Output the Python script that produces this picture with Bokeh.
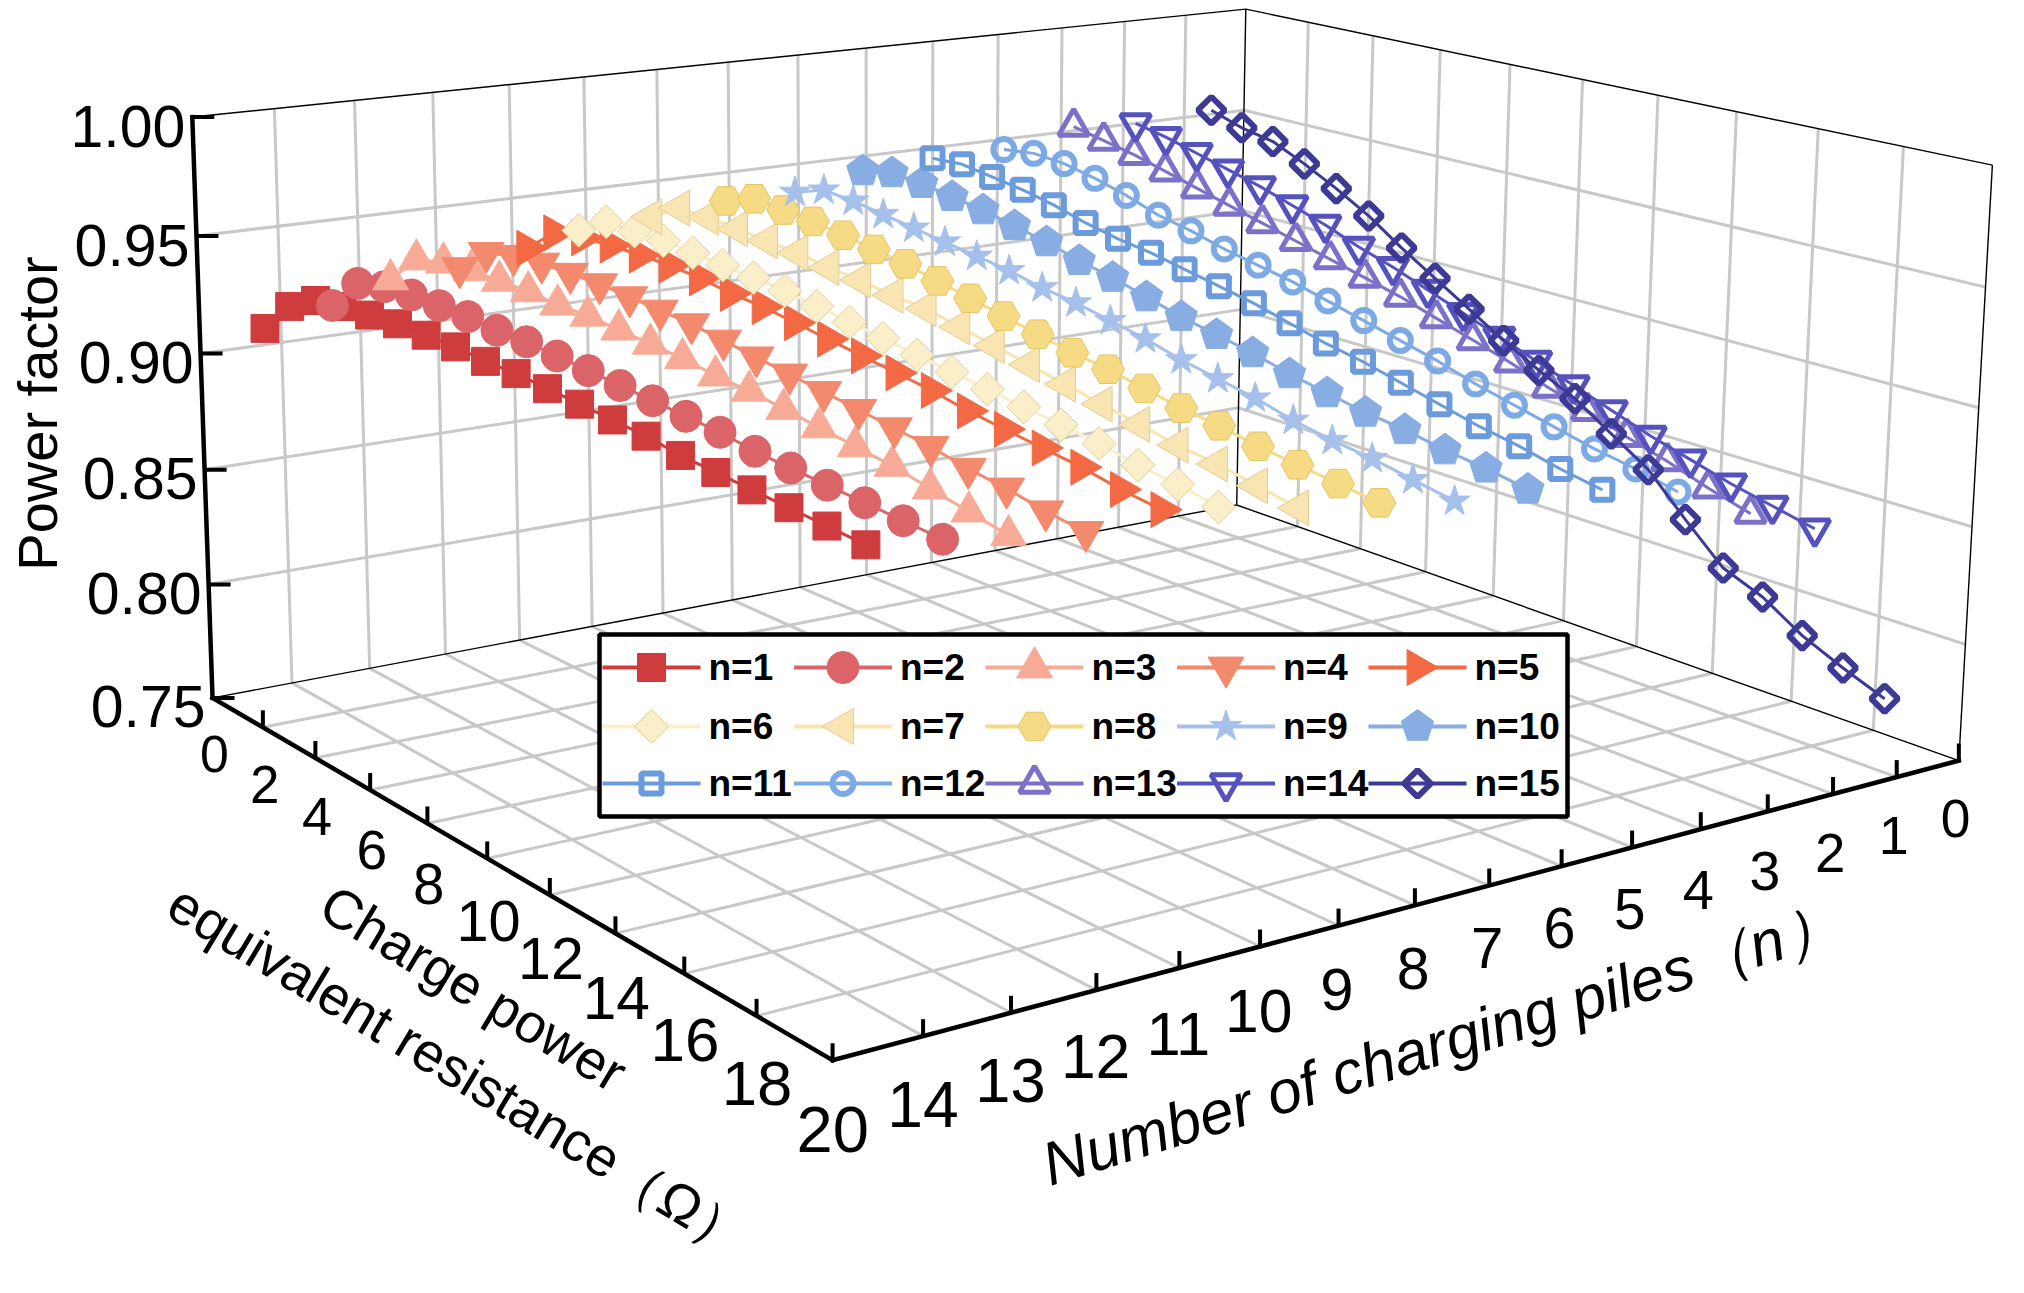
import numpy as np
from bokeh.plotting import figure
from bokeh.models import ColumnDataSource, Range1d
from bokeh.core.properties import value
from bokeh.embed import file_html
from bokeh.resources import INLINE

# ---------------- data ----------------
resistance = [0, 1, 2, 3, 4, 5, 6, 7, 8, 9, 10, 11, 12, 13, 14, 15, 16, 17, 18, 19]
piles = [1, 2, 3, 4, 5, 6, 7, 8, 9, 10, 11, 12, 13, 14, 15]
# position of every series along the (reversed) pile axis
pile_axis_pos = [0.8, 1.65, 2.4, 3.3, 4.2, 4.9, 5.9, 6.95, 7.95, 8.95, 10.0, 11.1, 12.2, 13.2, 14.45]

pf_n1 = [0.907, 0.921, 0.928, 0.930, 0.931, 0.932, 0.932, 0.932, 0.931, 0.931, 0.930, 0.929, 0.928, 0.927, 0.925, 0.924, 0.923, 0.922, 0.921, 0.920]
pf_n2 = [0.913, 0.927, 0.930, 0.931, 0.931, 0.931, 0.930, 0.930, 0.929, 0.928, 0.927, 0.926, 0.925, 0.924, 0.922, 0.921, 0.920, 0.919, 0.918, 0.917]
pf_n3 = [0.921, 0.934, 0.937, 0.938, 0.938, 0.938, 0.937, 0.937, 0.936, 0.935, 0.934, 0.932, 0.931, 0.929, 0.927, 0.925, 0.923, 0.920, 0.917, 0.914]
pf_n4 = [0.922, 0.933, 0.936, 0.937, 0.937, 0.937, 0.936, 0.935, 0.934, 0.932, 0.930, 0.928, 0.926, 0.924, 0.922, 0.920, 0.917, 0.915, 0.912, 0.910]
pf_n5 = [0.927, 0.938, 0.940, 0.941, 0.941, 0.941, 0.940, 0.938, 0.937, 0.935, 0.933, 0.931, 0.929, 0.927, 0.924, 0.922, 0.920, 0.918, 0.915, 0.913]
pf_n6 = [0.932, 0.940, 0.940, 0.940, 0.939, 0.938, 0.937, 0.936, 0.934, 0.932, 0.930, 0.928, 0.926, 0.924, 0.922, 0.920, 0.918, 0.915, 0.913, 0.910]
pf_n7 = [0.934, 0.942, 0.942, 0.941, 0.940, 0.939, 0.937, 0.936, 0.934, 0.933, 0.930, 0.927, 0.924, 0.921, 0.918, 0.915, 0.912, 0.910, 0.907, 0.904]
pf_n8 = [0.937, 0.942, 0.941, 0.940, 0.938, 0.936, 0.934, 0.931, 0.928, 0.925, 0.922, 0.919, 0.917, 0.914, 0.911, 0.909, 0.906, 0.904, 0.902, 0.900]
pf_n9 = [0.937, 0.942, 0.941, 0.939, 0.937, 0.935, 0.933, 0.931, 0.928, 0.926, 0.923, 0.920, 0.916, 0.913, 0.910, 0.906, 0.903, 0.901, 0.898, 0.895]
pf_n10 = [0.943, 0.946, 0.945, 0.943, 0.941, 0.938, 0.935, 0.931, 0.928, 0.924, 0.920, 0.917, 0.914, 0.910, 0.907, 0.904, 0.902, 0.899, 0.897, 0.894]
pf_n11 = [0.945, 0.946, 0.944, 0.942, 0.939, 0.935, 0.932, 0.930, 0.927, 0.924, 0.921, 0.917, 0.913, 0.910, 0.906, 0.902, 0.898, 0.895, 0.891, 0.888]
pf_n12 = [0.945, 0.947, 0.946, 0.943, 0.939, 0.934, 0.931, 0.927, 0.924, 0.921, 0.917, 0.913, 0.909, 0.905, 0.900, 0.896, 0.892, 0.888, 0.885, 0.881]
pf_n13 = [0.952, 0.949, 0.946, 0.942, 0.938, 0.934, 0.930, 0.926, 0.922, 0.918, 0.914, 0.909, 0.904, 0.899, 0.893, 0.888, 0.882, 0.877, 0.871, 0.866]
pf_n14 = [0.950, 0.947, 0.943, 0.939, 0.935, 0.930, 0.925, 0.919, 0.914, 0.908, 0.902, 0.896, 0.890, 0.884, 0.878, 0.872, 0.867, 0.862, 0.858, 0.854]
pf_n15 = [0.952, 0.947, 0.944, 0.937, 0.929, 0.920, 0.909, 0.899, 0.889, 0.879, 0.870, 0.862, 0.851, 0.840, 0.823, 0.807, 0.800, 0.789, 0.781, 0.774]

x_ticks = [0, 2, 4, 6, 8, 10, 12, 14, 16, 18, 20]
y_tick_pos = [1, 2, 3, 4, 5, 6, 7, 8, 9, 10, 11, 12, 13, 14, 15]
y_tick_labels = ["14", "13", "12", "11", "10", "9", "8", "7", "6", "5", "4", "3", "2", "1", "0"]
z_ticks = [0.75, 0.80, 0.85, 0.90, 0.95, 1.00]
z_tick_labels = ["0.75", "0.80", "0.85", "0.90", "0.95", "1.00"]
series_labels = ["n=%d" % n for n in piles]
series_values = [pf_n1, pf_n2, pf_n3, pf_n4, pf_n5, pf_n6, pf_n7, pf_n8, pf_n9,
                 pf_n10, pf_n11, pf_n12, pf_n13, pf_n14, pf_n15]

# ---------------- 3-D box and perspective camera ----------------
W_REF, H_REF = 2024, 1293
X_MAX, U_MAX, Z_MIN, Z_MAX = 20.0, 15.0, 0.75, 1.00
CAM = np.array([[448.10, 1245.37, -26.10, 220.04],
                [143.83, -101.81, -584.50, 705.40],
                [-0.20466, 0.17779, -0.02937, 1.0]])


def proj(X, U, Z):
    X, U, Z = np.broadcast_arrays(np.asarray(X, float), np.asarray(U, float), np.asarray(Z, float))
    s, t, z = X / X_MAX, U / U_MAX, (Z - Z_MIN) / (Z_MAX - Z_MIN)
    hom = CAM @ np.vstack([s.ravel(), t.ravel(), z.ravel(), np.ones(s.size)])
    sx, sy = hom[0] / hom[2], hom[1] / hom[2]
    return sx.reshape(s.shape), (H_REF - sy).reshape(s.shape), hom[2].reshape(s.shape)


def top(y):  # page-pixel (from top) -> plot coordinate
    return H_REF - y


FONT = value("Liberation Sans")
GRID = "#C8C8C8"

p = figure(width=2008, height=1277, x_range=Range1d(8, 2016), y_range=Range1d(8, 1285),
           output_backend="svg", toolbar_location=None, x_axis_location=None,
           y_axis_location=None, min_border=0, outline_line_color=None)
p.background_fill_color = "white"
p.border_fill_color = "white"
p.xgrid.grid_line_color = None
p.ygrid.grid_line_color = None
p.xgrid.visible = False
p.ygrid.visible = False


def lines_between(A, B):
    x0, y0, _ = proj(*A)
    x1, y1, _ = proj(*B)
    x0, y0, x1, y1 = (np.atleast_1d(v) for v in (x0, y0, x1, y1))
    return [[a, b] for a, b in zip(x0, x1)], [[a, b] for a, b in zip(y0, y1)]


# grid lines on floor, left wall (X = 0) and back wall (U = max)
gx, gy = [], []
inner_x = np.array(x_ticks[1:-1], float)
inner_u = np.array(y_tick_pos[:-1], float)
inner_z = np.array(z_ticks[1:-1], float)
for A, B in [
    ((inner_x, 0, Z_MIN), (inner_x, U_MAX, Z_MIN)),
    ((0, inner_u, Z_MIN), (X_MAX, inner_u, Z_MIN)),
    ((0, inner_u, Z_MIN), (0, inner_u, Z_MAX)),
    ((0, 0, inner_z), (0, U_MAX, inner_z)),
    ((inner_x, U_MAX, Z_MIN), (inner_x, U_MAX, Z_MAX)),
    ((0, U_MAX, inner_z), (X_MAX, U_MAX, inner_z)),
]:
    a, b = lines_between(A, B)
    gx += a
    gy += b
p.multi_line(gx, gy, line_color=GRID, line_width=3)

# thin box edges
ex, ey = [], []
for A, B in [((0, 0, Z_MIN), (0, U_MAX, Z_MIN)), ((0, U_MAX, Z_MIN), (X_MAX, U_MAX, Z_MIN)),
             ((0, U_MAX, Z_MIN), (0, U_MAX, Z_MAX)), ((0, 0, Z_MAX), (0, U_MAX, Z_MAX)),
             ((0, U_MAX, Z_MAX), (X_MAX, U_MAX, Z_MAX)), ((X_MAX, U_MAX, Z_MIN), (X_MAX, U_MAX, Z_MAX))]:
    a, b = lines_between(A, B)
    ex += a
    ey += b
p.multi_line(ex, ey, line_color="black", line_width=1.4)

# thick axes
ax_, ay_ = [], []
for A, B in [((0, 0, Z_MIN), (0, 0, Z_MAX)), ((0, 0, Z_MIN), (X_MAX, 0, Z_MIN)),
             ((X_MAX, 0, Z_MIN), (X_MAX, U_MAX, Z_MIN))]:
    a, b = lines_between(A, B)
    ax_ += a
    ay_ += b
p.multi_line(ax_, ay_, line_color="black", line_width=4.5, line_cap="square")

# ticks
TICK = 17
tx, ty, _ = proj(np.array(x_ticks[1:], float), 0, Z_MIN)
p.segment(x0=tx, y0=ty, x1=tx, y1=ty + TICK, line_color="black", line_width=4)
ux, uy, _ = proj(X_MAX, np.array(y_tick_pos, float), Z_MIN)
p.segment(x0=ux, y0=uy, x1=ux, y1=uy + TICK, line_color="black", line_width=4)
zx, zy, _ = proj(0, 0, np.array(z_ticks, float))
p.segment(x0=zx, y0=zy, x1=zx + 22, y1=zy, line_color="black", line_width=4)

# tick labels
p.text(x=zx - 7, y=zy - 9, text=z_tick_labels, text_font=FONT, text_font_size="59px",
       text_align="right", text_baseline="middle", text_color="black")
LAB_Z = Z_MIN - 0.1 * (Z_MAX - Z_MIN)
lx, ly, lw = proj(np.array(x_ticks, float), 0, LAB_Z)
p.text(source=ColumnDataSource(dict(x=lx, y=ly, t=[str(v) for v in x_ticks],
                                    fs=["%.1fpx" % (52 / w) for w in lw])),
       x="x", y="y", text="t", text_font_size="fs", text_font=FONT,
       text_align="center", text_baseline="middle", text_color="black")
lx, ly, lw = proj(X_MAX, np.array(y_tick_pos, float), LAB_Z)
p.text(source=ColumnDataSource(dict(x=lx, y=ly, t=y_tick_labels,
                                    fs=["%.1fpx" % (52 / w) for w in lw])),
       x="x", y="y", text="t", text_font_size="fs", text_font=FONT,
       text_align="center", text_baseline="middle", text_color="black")

# axis titles
p.text(x=[45], y=[top(421)], text=["Power factor"], angle=np.pi / 2, text_font=FONT,
       text_font_size="56px", text_align="center", text_baseline="middle")
p.text(x=[481, 467], y=[top(996), top(1078)],
       text=["Charge power", "equivalent resistance（Ω）"], angle=np.deg2rad(-31),
       text_font=FONT, text_font_size="55px", text_align="center", text_baseline="middle")
p.text(x=[1450], y=[top(1050)], text=["Number of charging piles（n）"], angle=np.deg2rad(17.2),
       text_font=FONT, text_font_size="61px", text_font_style="italic",
       text_align="center", text_baseline="middle")

# ---------------- series ----------------
styles = [
    dict(marker="square", color="#CF3C3E", size=28),
    dict(marker="circle", color="#DA6467", size=32),
    dict(marker="triangle", color="#F7AB97", size=36),
    dict(marker="inverted_triangle", color="#F3896D", size=36),
    dict(marker="triangle", angle=-np.pi / 2, color="#F26943", size=36),
    dict(marker="square", angle=np.pi / 4, color="#FBEFC9", size=24, edge="#E0CF9C"),
    dict(marker="triangle", angle=np.pi / 2, color="#F9E5B2", size=36, edge="#E3CD93"),
    dict(marker="hex", color="#F6DA84", size=33, edge="#E3C566"),
    dict(marker="star", color="#A5C0EA", size=33),
    dict(marker="pentagon", color="#88ADE3", size=17),
    dict(marker="square", color="#6B9BDB", size=20, hollow=True, lw=6),
    dict(marker="circle", color="#7DAAE5", size=21, hollow=True, lw=6),
    dict(marker="triangle", color="#7C71C8", size=30, hollow=True, lw=5),
    dict(marker="inverted_triangle", color="#5552BE", size=30, hollow=True, lw=5),
    dict(marker="square", angle=np.pi / 4, color="#3C3A95", size=19, hollow=True, lw=6),
]


def draw_marker(x, y, st):
    x = np.atleast_1d(x)
    y = np.atleast_1d(y)
    if st["marker"] == "pentagon":
        ang = np.pi / 2 + np.arange(5) * 2 * np.pi / 5
        r = st["size"]
        p.patches([list(a + r * np.cos(ang)) for a in x], [list(b + r * np.sin(ang)) for b in y],
                  fill_color=st["color"], line_color=st["color"], line_width=1)
        return
    hollow = st.get("hollow", False)
    p.scatter(x, y, marker=st["marker"], size=st["size"], angle=st.get("angle", 0.0),
              fill_color=None if hollow else st["color"],
              line_color=st["color"] if hollow else st.get("edge", st["color"]),
              line_width=st.get("lw", 1.0))


for upos, vals, st in zip(pile_axis_pos, series_values, styles):
    sx, sy, _ = proj(np.array(resistance, float), upos, np.array(vals, float))
    p.line(sx, sy, line_color=st["color"], line_width=3)
    draw_marker(sx, sy, st)

# ---------------- legend ----------------
LEG_L, LEG_R, LEG_T, LEG_B = 607, 1575, 642, 824
p.quad(left=[LEG_L], right=[LEG_R], top=[top(LEG_T)], bottom=[top(LEG_B)],
       fill_color="white", line_color="black", line_width=4.5)
row_y = [675, 734, 791]
col_x0 = 610
col_dx = 191.5
for i, (lab, st) in enumerate(zip(series_labels, styles)):
    r, c = divmod(i, 5)
    x0 = col_x0 + c * col_dx
    yy = top(row_y[r])
    p.line([x0, x0 + 98], [yy, yy], line_color=st["color"], line_width=4)
    draw_marker(x0 + 49, yy, st)
    p.text(x=[x0 + 106], y=[yy], text=[lab], text_font=FONT, text_font_size="37px",
           text_font_style="bold", text_align="left", text_baseline="middle", text_color="black")

open("out.html", "w").write(file_html(p, INLINE))
